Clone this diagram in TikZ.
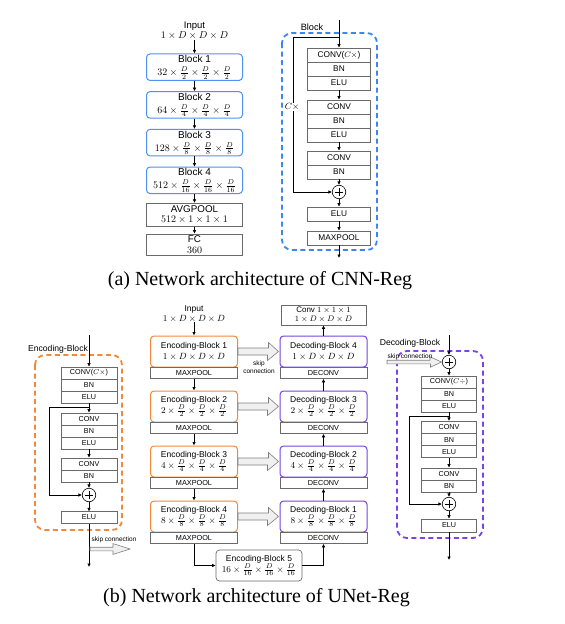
\documentclass[tikz,border=0pt]{standalone}
\usepackage{fontspec}
\setmainfont{Liberation Serif}
\setsansfont{Liberation Sans}
\usetikzlibrary{arrows.meta}
\definecolor{cblue}{HTML}{3D86F0}
\definecolor{cblueb}{HTML}{4D92F2}
\definecolor{corange}{HTML}{F0893A}
\definecolor{cpurple}{HTML}{7A45E0}
\definecolor{bgray}{HTML}{6A6A6A}
\definecolor{sgray}{HTML}{F0F0F0}
\newcommand{\mA}[1]{{\fontsize{10.2}{12}\selectfont$#1$}}
\newcommand{\mB}[1]{{\fontsize{9.3}{11}\selectfont$#1$}}
\tikzset{
  arr/.style={draw=black, line width=0.6pt, -{Latex[length=3.5pt,width=3.5pt]}},
  lay/.style={draw=bgray, line width=0.6pt, inner sep=0pt, align=center},
  laytop/.style={lay, minimum width=63, font=\sffamily\fontsize{8.3}{9}\selectfont},
  laybot/.style={lay, minimum width=56, font=\sffamily\fontsize{7.2}{8}\selectfont},
  poolbox/.style={lay, minimum width=87, minimum height=11.5, font=\sffamily\fontsize{7.3}{8}\selectfont},
  blkbase/.style={rounded corners=3.5pt, line width=1pt, inner sep=0pt, align=center},
  bblk/.style={blkbase, draw=cblueb, minimum width=96, minimum height=26.5, font=\sffamily\fontsize{10}{12.5}\selectfont},
  oblk/.style={blkbase, draw=corange, minimum width=87, minimum height=31, font=\sffamily\fontsize{8.5}{10.5}\selectfont},
  pblk/.style={blkbase, draw=cpurple, minimum width=87, minimum height=31, font=\sffamily\fontsize{8.5}{10.5}\selectfont},
  gblk/.style={blkbase, draw=bgray, line width=0.7pt, minimum width=86, minimum height=31, font=\sffamily\fontsize{8.5}{10.5}\selectfont},
  sqbox/.style={lay, minimum width=96, font=\sffamily\fontsize{9.8}{10.5}\selectfont},
  plus/.style={circle, draw=black, line width=0.6pt, minimum size=13.5, inner sep=0pt,
    path picture={\draw[line width=0.6pt] ([xshift=-3.8pt]path picture bounding box.center) -- ([xshift=3.8pt]path picture bounding box.center)
      ([yshift=-3.8pt]path picture bounding box.center) -- ([yshift=3.8pt]path picture bounding box.center);}},
  dashbox/.style={line width=1.8pt, dash pattern=on 5pt off 3.5pt, rounded corners=10pt},
  lbl/.style={font=\sffamily\fontsize{8.6}{9}\selectfont, inner sep=0pt},
  tinylbl/.style={font=\sffamily\fontsize{6.5}{7.7}\selectfont, inner sep=0pt, align=center},
  hol/.style={draw=gray, fill=sgray, line width=0.6pt, line join=miter},
  captext/.style={font=\fontsize{20}{22}\selectfont, inner sep=0pt}
}
\begin{document}
\begin{tikzpicture}[x=1pt,y=-1pt]
\useasboundingbox[fill=white] (0,0) rectangle (565,624);

% ================= (a) CNN-Reg : left column
\node[font=\sffamily\fontsize{9.5}{10.5}\selectfont, align=center, inner sep=0pt] (ainp) at (194.5,30.5) {Input\\\mA{1\times D\times D\times D}};
\node[bblk] (ab1) at (194.5,67.2) {Block 1\\[0.5pt]\mA{32\times\frac{D}{2}\times\frac{D}{2}\times\frac{D}{2}}};
\node[bblk] (ab2) at (194.5,104.9) {Block 2\\[0.5pt]\mA{64\times\frac{D}{4}\times\frac{D}{4}\times\frac{D}{4}}};
\node[bblk] (ab3) at (194.5,142.6) {Block 3\\[0.5pt]\mA{128\times\frac{D}{8}\times\frac{D}{8}\times\frac{D}{8}}};
\node[bblk] (ab4) at (194.5,180.3) {Block 4\\[0.5pt]\mA{512\times\frac{D}{16}\times\frac{D}{16}\times\frac{D}{16}}};
\node[sqbox, minimum height=23] (aavg) at (194.5,214.7) {AVGPOOL\\\mA{512\times1\times1\times1}};
\node[sqbox, minimum height=21] (afc) at (194.5,244.5) {FC\\\mA{360}};
\draw[arr] (ainp) -- (ab1);
\draw[arr] (ab1) -- (ab2);
\draw[arr] (ab2) -- (ab3);
\draw[arr] (ab3) -- (ab4);
\draw[arr] (ab4) -- (aavg);
\draw[arr] (aavg) -- (afc);

% ================= (a) Block detail
\draw[dashbox, draw=cblue] (282,33) rectangle (377,250);
\node[font=\sffamily\fontsize{9.2}{10}\selectfont, inner sep=0pt] (ablab) at (312,27) {Block};
\coordinate (atin) at (339,20);
\coordinate (ats) at (339,37);
\coordinate (atsk) at (293,37);
\node[laytop, minimum height=14] (tc1) at (339,55) {CONV($C\times$)};
\node[laytop, minimum height=14] (tb1) at (339,69) {BN};
\node[laytop, minimum height=14] (te1) at (339,83) {ELU};
\node[laytop, minimum height=14] (tc2) at (339,107) {CONV};
\node[laytop, minimum height=14] (tb2) at (339,121) {BN};
\node[laytop, minimum height=14] (te2) at (339,135) {ELU};
\node[laytop, minimum height=14] (tc3) at (339,158) {CONV};
\node[laytop, minimum height=14] (tb3) at (339,172) {BN};
\node[plus] (tplus) at (339,192) {};
\node[laytop, minimum height=14] (tel) at (339,214) {ELU};
\node[laytop, minimum height=14] (tmp) at (339,238) {MAXPOOL};
\coordinate (atout) at (339,258);
\draw[arr] (atin) -- (tc1);
\draw[arr] (te1) -- (tc2);
\draw[arr] (te2) -- (tc3);
\draw[arr] (tb3) -- (tplus);
\draw[arr] (tplus) -- (tel);
\draw[arr] (tel) -- (tmp);
\draw[arr] (tmp) -- (atout);
\draw[arr] (ats) -- (atsk) |- (tplus);
\node[fill=white, inner sep=1pt, font=\fontsize{9}{9}\selectfont] (acx) at (292,107) {$C\times$};

\node[captext] (capa) at (260,281) {(a) Network architecture of CNN-Reg};

% ================= (b) Encoding-Block detail
\draw[dashbox, draw=corange] (35,355) rectangle (122,530);
\node[lbl] (eblab) at (58,349) {Encoding-Block};
\coordinate (lin) at (89,335);
\coordinate (ls) at (89,407);
\coordinate (lsk) at (49,407);
\node[laybot, minimum height=12] (lc1) at (89,373) {CONV($C\times$)};
\node[laybot, minimum height=12] (lb1) at (89,385) {BN};
\node[laybot, minimum height=12] (le1) at (89,397) {ELU};
\node[laybot, minimum height=12] (lc2) at (89,419) {CONV};
\node[laybot, minimum height=12] (lb2) at (89,431) {BN};
\node[laybot, minimum height=12] (le2) at (89,443) {ELU};
\node[laybot, minimum height=12] (lc3) at (89,464) {CONV};
\node[laybot, minimum height=12] (lb3) at (89,476) {BN};
\node[plus] (lplus) at (89,495) {};
\node[laybot, minimum height=11.5] (lel) at (89,517.5) {ELU};
\coordinate (lout) at (89,567);
\draw[arr] (lin) -- (lc1);
\draw[arr] (le1) -- (lc2);
\draw[arr] (le2) -- (lc3);
\draw[arr] (lb3) -- (lplus);
\draw[arr] (lplus) -- (lel);
\draw[arr] (lel) -- (lout);
\draw[arr] (ls) -- (lsk) |- (lplus);
\coordinate (lha) at (90,549);
\draw[hol] ([yshift=1.8pt]lha) -- ++(23,0) -- ++(0,-3.6) -- ++(17,5.4) -- ++(-17,5.4) -- ++(0,-3.6) -- ([yshift=-1.8pt]lha) -- cycle;
\node[tinylbl] (lskl) at (114,539.5) {skip connection};

% ================= (b) Main U-Net
\node[font=\sffamily\fontsize{8.5}{9.5}\selectfont, align=center, inner sep=0pt] (binp) at (194,314) {Input\\\mB{1\times D\times D\times D}};
\node[oblk] (e1) at (194,351.5) {Encoding-Block 1\\[0.5pt]\mB{1\times D\times D\times D}};
\node[poolbox] (m1) at (194,372.75) {MAXPOOL};
\node[oblk] (e2) at (194,406.5) {Encoding-Block 2\\[0.5pt]\mB{2\times\frac{D}{2}\times\frac{D}{2}\times\frac{D}{2}}};
\node[poolbox] (m2) at (194,427.75) {MAXPOOL};
\node[oblk] (e3) at (194,461.5) {Encoding-Block 3\\[0.5pt]\mB{4\times\frac{D}{4}\times\frac{D}{4}\times\frac{D}{4}}};
\node[poolbox] (m3) at (194,482.75) {MAXPOOL};
\node[oblk] (e4) at (194,516.5) {Encoding-Block 4\\[0.5pt]\mB{8\times\frac{D}{8}\times\frac{D}{8}\times\frac{D}{8}}};
\node[poolbox] (m4) at (194,537.75) {MAXPOOL};
\node[gblk] (e5) at (259,565.5) {Encoding-Block 5\\[0.5pt]\mB{16\times\frac{D}{16}\times\frac{D}{16}\times\frac{D}{16}}};

\node[lay, minimum width=85, minimum height=20, font=\sffamily\fontsize{8}{9}\selectfont] (conv) at (323.5,315) {Conv {\fontsize{8.5}{9}\selectfont$1\times1\times1$}\\{\fontsize{8.5}{9}\selectfont$1\times D\times D\times D$}};
\node[pblk] (d4) at (323.5,351.5) {Decoding-Block 4\\[0.5pt]\mB{1\times D\times D\times D}};
\node[poolbox] (n4) at (323.5,372.75) {DECONV};
\node[pblk] (d3) at (323.5,406.5) {Decoding-Block 3\\[0.5pt]\mB{2\times\frac{D}{2}\times\frac{D}{2}\times\frac{D}{2}}};
\node[poolbox] (n3) at (323.5,427.75) {DECONV};
\node[pblk] (d2) at (323.5,461.5) {Decoding-Block 2\\[0.5pt]\mB{4\times\frac{D}{4}\times\frac{D}{4}\times\frac{D}{4}}};
\node[poolbox] (n2) at (323.5,482.75) {DECONV};
\node[pblk] (d1) at (323.5,516.5) {Decoding-Block 1\\[0.5pt]\mB{8\times\frac{D}{8}\times\frac{D}{8}\times\frac{D}{8}}};
\node[poolbox] (n1) at (323.5,537.75) {DECONV};

\draw[arr] (binp) -- (e1);
\draw[arr] (m1) -- (e2);
\draw[arr] (m2) -- (e3);
\draw[arr] (m3) -- (e4);
\draw[arr] (m4.south) |- (e5.west);
\draw[arr] (e5.east) -| (n1.south);
\draw[arr] (d1) -- (n2);
\draw[arr] (d2) -- (n3);
\draw[arr] (d3) -- (n4);
\draw[arr] (d4) -- (conv);

\foreach \a/\b in {e1/d4,e2/d3,e3/d2,e4/d1}{
  \draw[hol] ([yshift=3.5pt]\a.east) -- ++(30.5,0) -- ++(0,-5.5) -- ([xshift=-1pt]\b.west) -- ++(-11,9) -- ++(0,-5.5) -- ([yshift=-3.5pt]\a.east) -- cycle;
}
\node[tinylbl] (mskl) at (259,367) {skip\\connection};

% ================= (b) Decoding-Block detail
\draw[dashbox, draw=cpurple] (397,351) rectangle (483,538);
\node[lbl] (dblab) at (410,343) {Decoding-Block};
\coordinate (rin) at (449,335);
\node[plus] (rplus1) at (449,362) {};
\coordinate (rha) at (387,362);
\draw[hol] ([yshift=1.8pt]rha) -- ++(43,0) -- ++(0,-3.4) -- ([xshift=-0.5pt]rplus1.west) -- ++(-11,5.2) -- ++(0,-3.4) -- ([yshift=-1.8pt]rha) -- cycle;
\node[tinylbl] (rskl) at (410,357) {skip connection};
\coordinate (rs) at (449,416);
\coordinate (rsk) at (409,416);
\node[laybot, minimum width=55, minimum height=12] (rc1) at (449,382) {CONV($C\div$)};
\node[laybot, minimum width=55, minimum height=12] (rb1) at (449,394) {BN};
\node[laybot, minimum width=55, minimum height=12] (re1) at (449,406) {ELU};
\node[laybot, minimum width=55, minimum height=12.5] (rc2) at (449,427.5) {CONV};
\node[laybot, minimum width=55, minimum height=12] (rb2) at (449,439.75) {BN};
\node[laybot, minimum width=55, minimum height=12] (re2) at (449,451.75) {ELU};
\node[laybot, minimum width=55, minimum height=12] (rc3) at (449,474) {CONV};
\node[laybot, minimum width=55, minimum height=12] (rb3) at (449,486) {BN};
\node[plus] (rplus2) at (449,504) {};
\node[laybot, minimum width=55, minimum height=13] (rel) at (449,525.5) {ELU};
\coordinate (rout) at (449,560);
\draw[arr] (rin) -- (rplus1);
\draw[arr] (rplus1) -- (rc1);
\draw[arr] (re1) -- (rc2);
\draw[arr] (re2) -- (rc3);
\draw[arr] (rb3) -- (rplus2);
\draw[arr] (rplus2) -- (rel);
\draw[arr] (rel) -- (rout);
\draw[arr] (rs) -- (rsk) |- (rplus2);

\node[captext] (capb) at (256.5,598) {(b) Network architecture of UNet-Reg};
\end{tikzpicture}
\end{document}
